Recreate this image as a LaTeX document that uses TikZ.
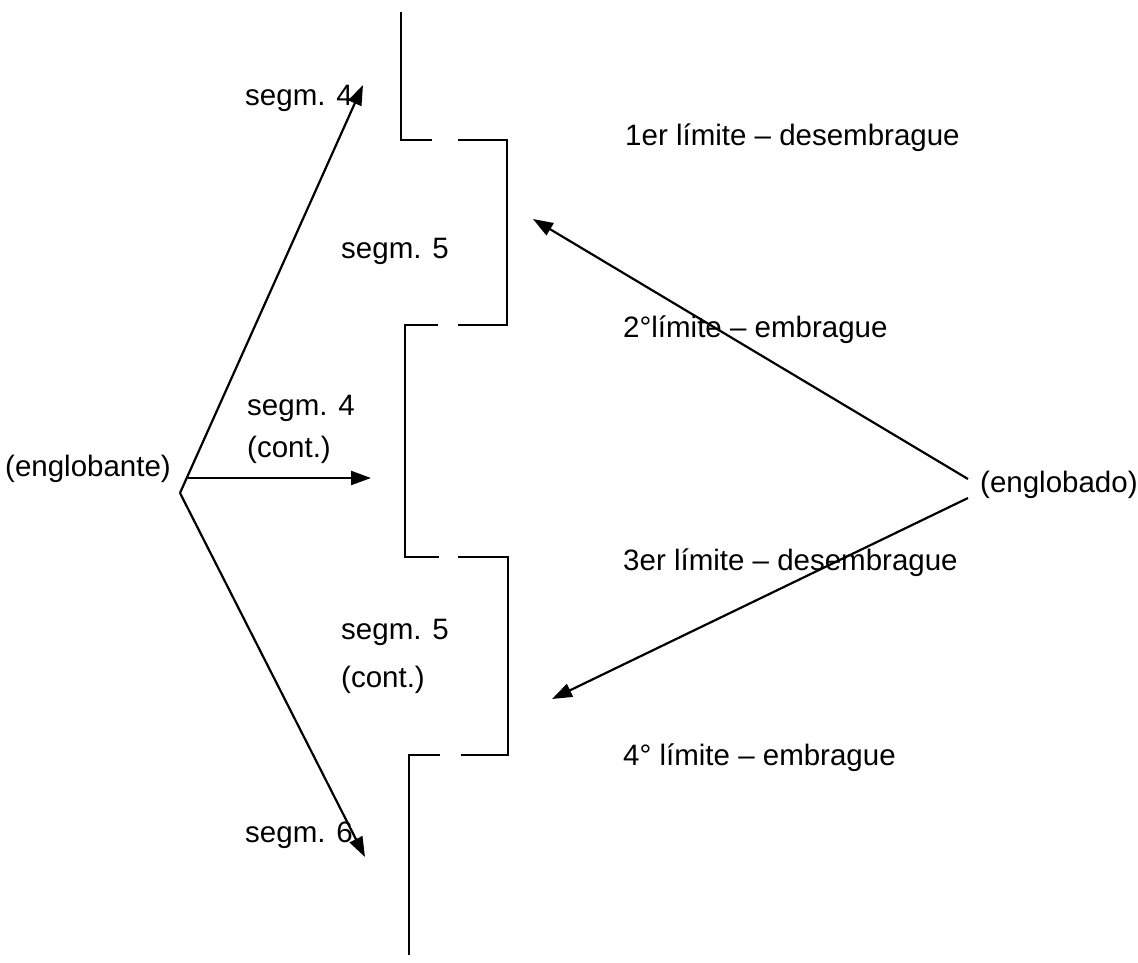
\documentclass[tikz,border=0pt]{standalone}
\usepackage{fontspec}
\setmainfont{Liberation Sans}
\usetikzlibrary{arrows.meta}
\begin{document}
\begin{tikzpicture}[x=1pt,y=-1pt,
  lbl/.style={anchor=base west,inner sep=0pt,font=\fontsize{29.5}{35}\selectfont},
  seg/.style={line width=2.2pt},
  arr/.style={line width=2.2pt,-{Triangle[length=20pt,width=14pt]}}]
\useasboundingbox (0,0) rectangle (1138,962);
% text nodes
\node[lbl] (englobante) at (5,476) {(englobante)};
\node[lbl] (englobado) at (980,492) {(englobado)};
\node[lbl] (s4) at (245,105) {segm. 4};
\node[lbl] (s5) at (341,258) {segm. 5};
\node[lbl,align=left,font=\fontsize{29.5}{42}\selectfont] (s4c) at (247,457) {segm. 4\\(cont.)};
\node[lbl,align=left,font=\fontsize{29.5}{48}\selectfont] (s5c) at (341,687) {segm. 5\\(cont.)};
\node[lbl] (s6) at (245,842) {segm. 6};
\node[lbl] (l1) at (625,145) {1er límite – desembrague};
\node[lbl] (l2) at (623,337) {2°límite – embrague};
\node[lbl] (l3) at (623,570) {3er límite – desembrague};
\node[lbl] (l4) at (623,765) {4° límite – embrague};
% coordinates
\coordinate (fan) at (180,493);
\coordinate (fanh) at (188,478);
\coordinate (t4) at (363,85);
\coordinate (t4c) at (371,478);
\coordinate (t6) at (365,857);
\coordinate (rup) at (968,479);
\coordinate (rdn) at (968,498);
\coordinate (tup) at (533,219);
\coordinate (tdn) at (552,699);
% bracket lines
\draw[seg] (401,12) -- (401,140) -- (432,140);
\draw[seg] (458,140) -- (507,140) -- (507,325) -- (458,325);
\draw[seg] (438,325) -- (405,325) -- (405,557) -- (439,557);
\draw[seg] (458,557) -- (508,557) -- (508,755) -- (461,755);
\draw[seg] (440,755) -- (409,755) -- (409,955);
% arrows
\draw[arr] (fan) -- (t4);
\draw[arr] (fanh) -- (t4c);
\draw[arr] (fan) -- (t6);
\draw[arr] (rup) -- (tup);
\draw[arr] (rdn) -- (tdn);
\end{tikzpicture}
\end{document}
